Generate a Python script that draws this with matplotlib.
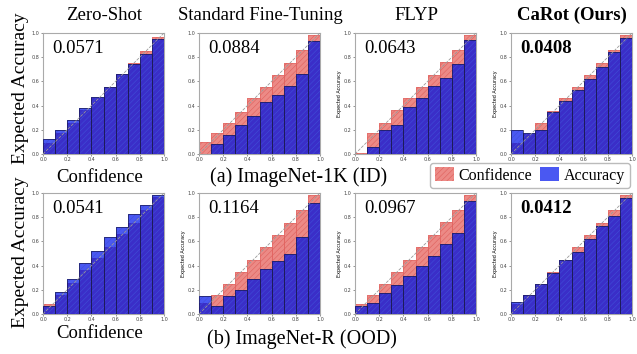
import numpy as np
import matplotlib.pyplot as plt
import matplotlib.patches as mpatches

# 방법 이름 / ECE 값
methods = ['Zero-Shot', 'Standard Fine-Tuning', 'FLYP', 'CaRot (Ours)']
ece_id = ['0.0571', '0.0884', '0.0643', '0.0408']
ece_ood = ['0.0541', '0.1164', '0.0967', '0.0412']

# ImageNet-1K (ID) bin 별 accuracy / confidence
acc_id = [
    [0.12, 0.20, 0.28, 0.38, 0.47, 0.55, 0.66, 0.74, 0.83, 0.95],
    [0.00, 0.08, 0.16, 0.24, 0.31, 0.43, 0.49, 0.56, 0.66, 0.93],
    [0.00, 0.06, 0.20, 0.24, 0.39, 0.46, 0.56, 0.63, 0.74, 0.94],
    [0.20, 0.17, 0.20, 0.35, 0.44, 0.53, 0.62, 0.72, 0.84, 0.96],
]
conf_id = [
    [0.09, 0.17, 0.26, 0.36, 0.46, 0.55, 0.66, 0.75, 0.85, 0.97],
    [0.10, 0.17, 0.26, 0.35, 0.46, 0.55, 0.65, 0.75, 0.86, 0.98],
    [0.01, 0.17, 0.26, 0.36, 0.46, 0.55, 0.65, 0.76, 0.86, 0.98],
    [0.09, 0.165, 0.26, 0.355, 0.46, 0.55, 0.65, 0.75, 0.86, 0.98],
]
# ImageNet-R (OOD)
acc_ood = [
    [0.07, 0.18, 0.29, 0.42, 0.52, 0.64, 0.72, 0.83, 0.90, 0.98],
    [0.15, 0.07, 0.15, 0.20, 0.29, 0.37, 0.44, 0.50, 0.64, 0.92],
    [0.07, 0.09, 0.17, 0.24, 0.31, 0.40, 0.48, 0.58, 0.67, 0.93],
    [0.10, 0.16, 0.25, 0.34, 0.45, 0.51, 0.62, 0.73, 0.81, 0.96],
]
conf_ood = [
    [0.08, 0.16, 0.26, 0.36, 0.46, 0.55, 0.66, 0.75, 0.86, 0.97],
    [0.09, 0.16, 0.25, 0.35, 0.45, 0.55, 0.65, 0.75, 0.86, 0.98],
    [0.08, 0.16, 0.25, 0.35, 0.45, 0.55, 0.65, 0.76, 0.86, 0.98],
    [0.08, 0.16, 0.25, 0.35, 0.45, 0.55, 0.65, 0.75, 0.86, 0.98],
]

SERIF = ['Liberation Serif', 'DejaVu Serif']
RED = '#ec8a86'
RED_HATCH = '#e0605c'
LIGHT_BLUE = '#4a58f2'
DARK_BLUE = '#3a2ec8'

plt.rcParams['hatch.linewidth'] = 0.4

W, H = 637, 354
fig = plt.figure(figsize=(W / 100, H / 100), dpi=100)

lefts = [43, 199, 355, 511]
tops = [33, 193]
aw, ah = 121, 121
centers = np.arange(10) * 0.1 + 0.05


def draw_panel(ax, acc, conf, ece, bold, small_ylabel):
    acc = np.array(acc)
    conf = np.array(conf)
    overlap = np.minimum(acc, conf)
    # confidence (gap) 막대
    ax.bar(centers, conf, width=0.1, color=RED, edgecolor='none', zorder=2)
    ax.bar(centers, conf, width=0.1, color='none', edgecolor=RED_HATCH,
           hatch='//////', linewidth=0, zorder=2.1)
    ax.bar(centers, conf, width=0.1, color='none', edgecolor=RED_HATCH,
           linewidth=0.4, zorder=2.2)
    # accuracy 막대
    ax.bar(centers, acc, width=0.1, color=LIGHT_BLUE, edgecolor='none', zorder=3)
    ax.bar(centers, overlap, width=0.1, color=DARK_BLUE, edgecolor='none', zorder=3.1)
    ax.bar(centers, acc, width=0.1, color='none', edgecolor='#4050d8',
           hatch='//////', linewidth=0, zorder=3.2)
    ax.bar(centers, acc, width=0.1, color='none', edgecolor='#1a1a50',
           linewidth=0.5, zorder=3.3)
    ax.plot([0, 1], [0, 1], linestyle='--', color='#999999', linewidth=0.6, zorder=4)
    ax.set_xlim(0, 1)
    ax.set_ylim(0, 1)
    ticks = np.linspace(0, 1, 6)
    ax.set_xticks(ticks)
    ax.set_yticks(ticks)
    ax.set_xticklabels([f'{t:.1f}' for t in ticks])
    ax.set_yticklabels([f'{t:.1f}' for t in ticks])
    ax.tick_params(labelsize=3.5, length=1.5, width=0.4, pad=1, colors='#444444')
    for s in ax.spines.values():
        s.set_color('#aaaaaa')
        s.set_linewidth(0.8)
    ax.text(0.08, 0.87, ece, transform=ax.transAxes, fontsize=13.5,
            family=SERIF, fontweight='bold' if bold else 'normal', va='center', zorder=5)
    if small_ylabel:
        ax.set_ylabel('Expected Accuracy', fontsize=3.5, labelpad=1)


for row, (accs, confs, eces) in enumerate([(acc_id, conf_id, ece_id),
                                            (acc_ood, conf_ood, ece_ood)]):
    for col in range(4):
        ax = fig.add_axes([lefts[col] / W, 1 - (tops[row] + ah) / H, aw / W, ah / H])
        small = (col >= 2) if row == 0 else (col >= 1)
        draw_panel(ax, accs[col], confs[col], eces[col], col == 3, small)

# 제목
title_x = [104, 260, 416, 572]
for col, name in enumerate(methods):
    fig.text(title_x[col] / W, 1 - 15 / H, name, ha='center', va='center',
             fontsize=13.5, family=SERIF, fontweight='bold' if col == 3 else 'normal')

# 큰 축 라벨
for yc in [88, 252]:
    fig.text(21 / W, 1 - yc / H, 'Expected Accuracy', rotation=90, ha='center',
             va='center', fontsize=14, family=SERIF)
fig.text(100 / W, 1 - 177 / H, 'Confidence', ha='center', va='center',
         fontsize=13.5, family=SERIF)
fig.text(100 / W, 1 - 333 / H, 'Confidence', ha='center', va='center',
         fontsize=13.5, family=SERIF)
fig.text(299 / W, 1 - 177 / H, '(a) ImageNet-1K (ID)', ha='center', va='center',
         fontsize=14.5, family=SERIF)
fig.text(302 / W, 1 - 339 / H, '(b) ImageNet-R (OOD)', ha='center', va='center',
         fontsize=14.5, family=SERIF)

# 범례
handles = [mpatches.Patch(facecolor=RED, edgecolor=RED_HATCH, hatch='//////',
                          linewidth=0, label='Confidence'),
           mpatches.Patch(facecolor=LIGHT_BLUE, edgecolor='none', label='Accuracy')]
fig.legend(handles=handles, loc='center', bbox_to_anchor=(530 / W, 1 - 175.5 / H),
           ncol=2, prop={'family': SERIF, 'size': 11.5}, frameon=True,
           handlelength=1.2, handleheight=0.9, handletextpad=0.3, columnspacing=0.5,
           borderpad=0.3, edgecolor='#aaaaaa', fancybox=True)

fig.savefig('out.png', dpi=100)
